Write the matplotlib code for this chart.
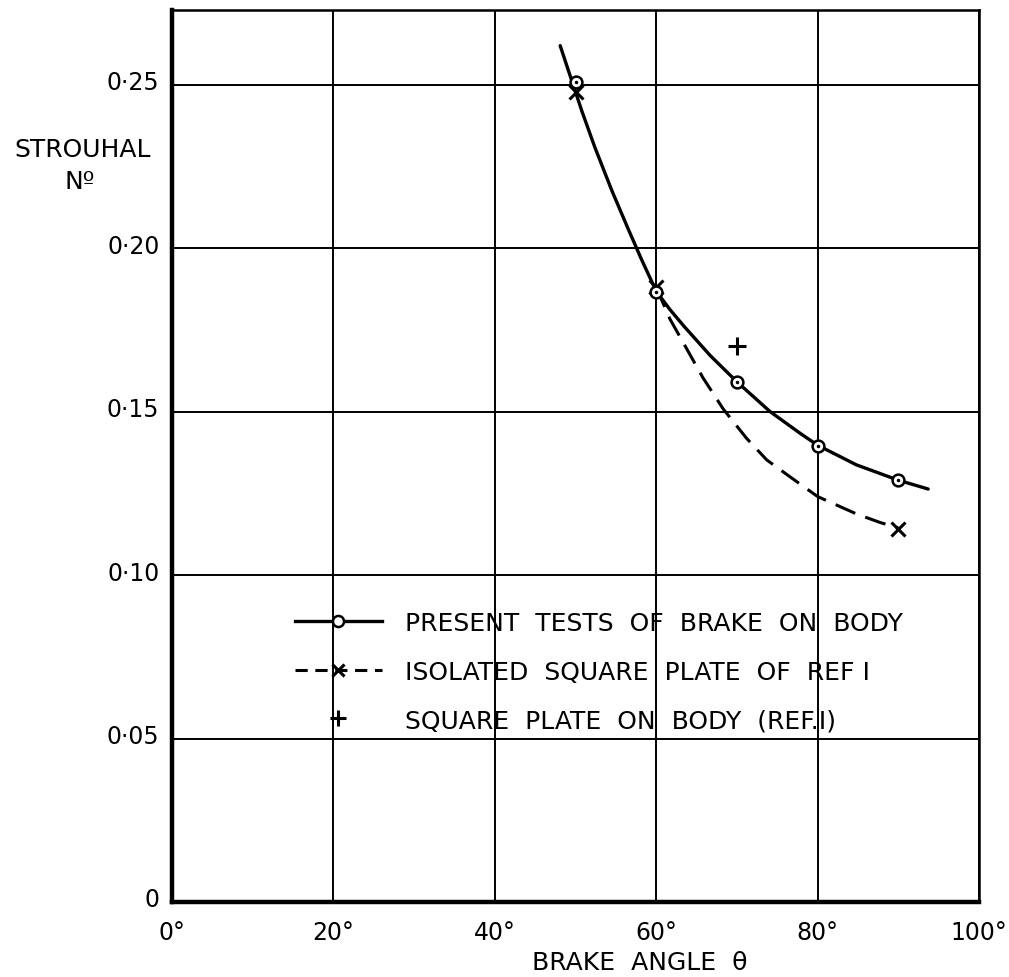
import matplotlib
matplotlib.use("Agg")
import matplotlib.pyplot as plt
import matplotlib.transforms as mtransforms
from matplotlib.lines import Line2D

# ---- data ----
# measured points (brake angle, Strouhal number)
present_x = [50, 60, 70, 80, 90]
present_y = [0.2507, 0.1867, 0.1591, 0.1395, 0.1290]
isolated_x = [50, 60, 90]
isolated_y = [0.2476, 0.1880, 0.1142]
onbody_x = [70]
onbody_y = [0.1701]

# faired curves
present_curve_x = [48.1, 49.6, 50.8, 52.4, 54.5, 56.5, 58.2, 60.0, 61.7, 63.4,
                   66.7, 70.0, 74.1, 77.8, 80.0, 84.8, 90.0, 93.7]
present_curve_y = [0.2619, 0.2507, 0.2418, 0.2308, 0.2176, 0.2060, 0.1964, 0.1868, 0.1812, 0.1762,
                   0.1671, 0.1591, 0.1500, 0.1434, 0.1397, 0.1337, 0.1290, 0.1263]
isolated_curve_x = [60.0, 61.7, 63.8, 65.8, 68.3, 71.2, 73.7, 76.6, 80.0, 84.8,
                    87.7, 90.0]
isolated_curve_y = [0.1880, 0.1783, 0.1691, 0.1603, 0.1508, 0.1418, 0.1352, 0.1300, 0.1240, 0.1187,
                    0.1161, 0.1144]

xticks = [0, 20, 40, 60, 80, 100]
xticklabels = ["0°", "20°", "40°", "60°", "80°", "100°"]
yticks = [0, 0.05, 0.10, 0.15, 0.20, 0.25]
yticklabels = ["0", "0·05", "0·10", "0·15", "0·20", "0·25"]
legend_labels = ["PRESENT  TESTS  OF  BRAKE  ON  BODY",
                 "ISOLATED  SQUARE  PLATE  OF  REF I",
                 "SQUARE  PLATE  ON  BODY  (REF.I)"]

plt.rcParams['font.family'] = ['DejaVu Sans']
fig = plt.figure(figsize=(10.09, 9.78), dpi=100)
ax = fig.add_axes([172/1009, 75/978, 807/1009, 892/978])

ax.set_xlim(0, 100)
ax.set_ylim(0, 0.2728)

# grid
ax.set_xticks(xticks)
ax.set_yticks(yticks)
ax.grid(True, color='black', linewidth=1.4)
ax.set_axisbelow(True)
ax.tick_params(length=0, labelsize=17)
ax.tick_params(axis='x', pad=13)
ax.tick_params(axis='y', pad=9)
ax.set_xticklabels(xticklabels)
ax.set_yticklabels(yticklabels)
up = mtransforms.ScaledTranslation(0, 5/100, fig.dpi_scale_trans)
for lab in ax.get_yticklabels():
    lab.set_transform(lab.get_transform() + up)

for side in ['left', 'bottom']:
    ax.spines[side].set_linewidth(3.2)
for side in ['top', 'right']:
    ax.spines[side].set_linewidth(1.8)

# curves
ax.plot(present_curve_x, present_curve_y, color='black', lw=2.4, solid_capstyle='round',
        solid_joinstyle='round')
ax.plot(isolated_curve_x, isolated_curve_y, color='black', lw=2.2,
        dashes=(7, 3.5))

# markers
ax.plot(isolated_x, isolated_y, linestyle='none', marker='x', color='black',
        markersize=10, mew=2.2)
ax.plot(present_x, present_y, linestyle='none', marker='o', markerfacecolor='white',
        markeredgecolor='black', markersize=8.5, mew=1.8)
ax.plot(present_x, present_y, linestyle='none', marker='.', color='black', markersize=3)
ax.plot(onbody_x, onbody_y, linestyle='none', marker='+', color='black',
        markersize=13, mew=2.2)

# legend
handles = [
    Line2D([], [], color='black', lw=2.4, marker='o', markerfacecolor='white',
           markeredgecolor='black', markersize=8, mew=1.8),
    Line2D([], [], color='black', lw=2.2, dashes=(4, 2.5), marker='x',
           markersize=9, mew=2.2),
    Line2D([], [], color='black', linestyle='none', marker='+', markersize=12, mew=2.2),
]
leg = ax.legend(handles, legend_labels, loc='upper left',
                bbox_to_anchor=(0.152, 0.326), frameon=False, fontsize=18,
                handlelength=3.48, handletextpad=0.92, labelspacing=0.98,
                borderpad=0, borderaxespad=0)

# axis labels
fig.text(83/1009, 1 - 150/978, "STROUHAL", ha='center', va='center', fontsize=18)
fig.text(80/1009, 1 - 182/978, "Nº", ha='center', va='center', fontsize=18)
fig.text(640/1009, 1 - 963/978, "BRAKE  ANGLE  θ", ha='center', va='center', fontsize=18)

fig.savefig("out.png", dpi=100)
